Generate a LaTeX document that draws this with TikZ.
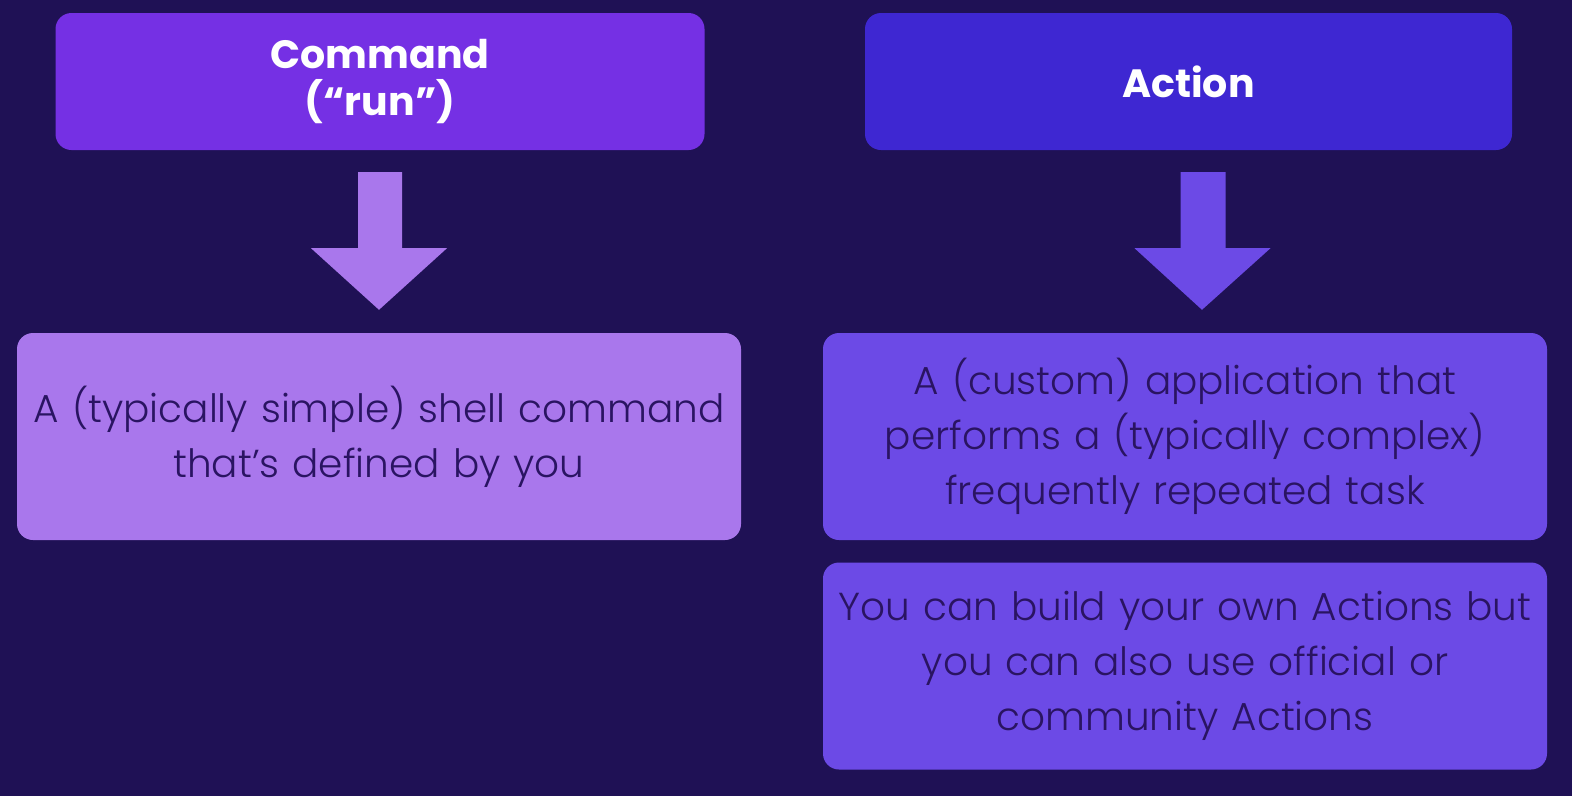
\documentclass[tikz,border=0pt]{standalone}
\usepackage{fontspec}
\setmainfont{Poppins}
\IfFontExistsTF{Poppins Light}
  {\newfontfamily\bodyfont{Poppins Light}}
  {\newfontfamily\bodyfont{Poppins}}
\usetikzlibrary{calc}

\definecolor{bgcol}{HTML}{1F1155}
\definecolor{cmdcol}{HTML}{7530E4}
\definecolor{actcol}{HTML}{3E27D2}
\definecolor{lightcol}{HTML}{A977EC}
\definecolor{midcol}{HTML}{6C4AE6}
\definecolor{inkcol}{HTML}{2A1462}

\tikzset{
  titlebox/.style={rounded corners=16pt, minimum width=649pt, minimum height=137pt,
    inner sep=0pt, align=center, text=white,
    font=\fontsize{39.5}{47}\selectfont\bfseries},
  descbox/.style={rounded corners=16pt, minimum width=724pt, minimum height=207pt,
    inner sep=0pt, text width=724pt, align=center, text=inkcol,
    font=\bodyfont\fontsize{39}{55}\selectfont},
}

\begin{document}
\begin{tikzpicture}[x=1pt,y=-1pt]
  \fill[bgcol] (0,0) rectangle (1572,796);
  \useasboundingbox (0,0) rectangle (1572,796);

  % left column
  \node[titlebox, fill=cmdcol] (cmd) at (380,81.5) {Command\\(“run”)};
  \node[descbox, fill=lightcol] (cmddesc) at (379,436.5)
    {A (typically simple) shell command\\that’s defined by you};

  % right column
  \node[titlebox, fill=actcol, minimum width=647pt] (act) at (1188.5,81.5) {Action};
  \node[descbox, fill=midcol] (actdesc) at (1185,436.5)
    {A (custom) application that\\performs a (typically complex)\\frequently repeated task};
  \node[descbox, fill=midcol] (actmore) at (1185,666)
    {You can build your own Actions but\\you can also use official or\\community Actions};

  % block arrows between title and description
  \fill[lightcol] ($(cmd.south)+(-22,22)$) -- ++(44,0) -- ++(0,76) -- ++(45,0)
    -- ($(cmddesc.north)+(0,-23)$) -- ($(cmd.south)+(-69,98)$) -- ++(47,0) -- cycle;
  \fill[midcol] ($(act.south)+(-8,22)$) -- ++(45,0) -- ++(0,76) -- ++(45,0)
    -- ($(actdesc.north)+(17,-23)$) -- ($(act.south)+(-54,98)$) -- ++(46,0) -- cycle;
\end{tikzpicture}
\end{document}
